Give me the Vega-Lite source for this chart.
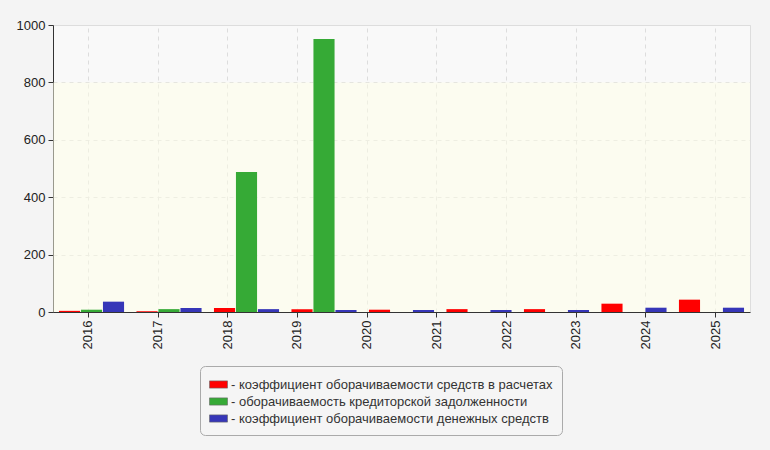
{
  "$schema": "https://vega.github.io/schema/vega-lite/v6.json",
  "background": "#f4f4f4",
  "width": 697,
  "height": 287,
  "autosize": "none",
  "padding": {"left": 53, "top": 25, "right": 20, "bottom": 138},
  "datasets": {
    "turnover": [
      {"period": "2016", "series": "коэффициент оборачиваемости средств в расчетах", "value": 4},
      {"period": "2016", "series": "оборачиваемость кредиторской задолженности", "value": 8},
      {"period": "2016", "series": "коэффициент оборачиваемости денежных средств", "value": 36},
      {"period": "2017", "series": "коэффициент оборачиваемости средств в расчетах", "value": 3},
      {"period": "2017", "series": "оборачиваемость кредиторской задолженности", "value": 10},
      {"period": "2017", "series": "коэффициент оборачиваемости денежных средств", "value": 14},
      {"period": "2018", "series": "коэффициент оборачиваемости средств в расчетах", "value": 14},
      {"period": "2018", "series": "оборачиваемость кредиторской задолженности", "value": 488},
      {"period": "2018", "series": "коэффициент оборачиваемости денежных средств", "value": 10},
      {"period": "2019", "series": "коэффициент оборачиваемости средств в расчетах", "value": 10},
      {"period": "2019", "series": "оборачиваемость кредиторской задолженности", "value": 951},
      {"period": "2019", "series": "коэффициент оборачиваемости денежных средств", "value": 7},
      {"period": "2020", "series": "коэффициент оборачиваемости средств в расчетах", "value": 8},
      {"period": "2020", "series": "оборачиваемость кредиторской задолженности", "value": 0},
      {"period": "2020", "series": "коэффициент оборачиваемости денежных средств", "value": 7},
      {"period": "2021", "series": "коэффициент оборачиваемости средств в расчетах", "value": 10},
      {"period": "2021", "series": "оборачиваемость кредиторской задолженности", "value": 0},
      {"period": "2021", "series": "коэффициент оборачиваемости денежных средств", "value": 7},
      {"period": "2022", "series": "коэффициент оборачиваемости средств в расчетах", "value": 10},
      {"period": "2022", "series": "оборачиваемость кредиторской задолженности", "value": 0},
      {"period": "2022", "series": "коэффициент оборачиваемости денежных средств", "value": 7},
      {"period": "2023", "series": "коэффициент оборачиваемости средств в расчетах", "value": 29},
      {"period": "2023", "series": "оборачиваемость кредиторской задолженности", "value": 0},
      {"period": "2023", "series": "коэффициент оборачиваемости денежных средств", "value": 15},
      {"period": "2024", "series": "коэффициент оборачиваемости средств в расчетах", "value": 43},
      {"period": "2024", "series": "оборачиваемость кредиторской задолженности", "value": 0},
      {"period": "2024", "series": "коэффициент оборачиваемости денежных средств", "value": 15}
    ],
    "years": [
      {"year": "2016"}, {"year": "2017"}, {"year": "2018"}, {"year": "2019"}, {"year": "2020"},
      {"year": "2021"}, {"year": "2022"}, {"year": "2023"}, {"year": "2024"}, {"year": "2025"}
    ]
  },
  "layer": [
    {
      "data": {"values": [{}]},
      "mark": {"type": "rect", "color": "#ffffe8", "opacity": 0.5},
      "encoding": {
        "y": {
          "datum": 0,
          "type": "quantitative",
          "scale": {"domain": [0, 1000]},
          "title": null,
          "axis": {
            "values": [0, 200, 400, 600, 800, 1000],
            "format": "d",
            "grid": true,
            "gridDash": [4, 4],
            "gridColor": "#dddddd",
            "domainColor": "#333333",
            "tickColor": "#333333",
            "tickSize": 5,
            "labelPadding": 3
          }
        },
        "y2": {"datum": 800}
      }
    },
    {
      "data": {"name": "years"},
      "mark": {"type": "rule", "opacity": 0},
      "encoding": {
        "x": {
          "field": "year",
          "type": "ordinal",
          "scale": {"type": "point", "padding": 0.5},
          "title": null,
          "axis": {
            "labelAngle": -90,
            "grid": true,
            "gridDash": [4, 4],
            "gridColor": "#dddddd",
            "domainColor": "#333333",
            "tickColor": "#333333",
            "tickSize": 5,
            "labelPadding": 3
          }
        }
      }
    },
    {
      "data": {"name": "turnover"},
      "mark": {"type": "bar"},
      "encoding": {
        "x": {
          "field": "period",
          "type": "ordinal",
          "scale": {"paddingInner": 0.16, "paddingOuter": 0.077},
          "axis": null
        },
        "xOffset": {
          "field": "series",
          "type": "nominal",
          "scale": {
            "domain": [
              "коэффициент оборачиваемости средств в расчетах",
              "оборачиваемость кредиторской задолженности",
              "коэффициент оборачиваемости денежных средств"
            ],
            "paddingInner": 0.04
          }
        },
        "y": {"field": "value", "type": "quantitative", "title": null},
        "color": {
          "field": "series",
          "type": "nominal",
          "scale": {
            "domain": [
              "коэффициент оборачиваемости средств в расчетах",
              "оборачиваемость кредиторской задолженности",
              "коэффициент оборачиваемости денежных средств"
            ],
            "range": ["#ff0000", "#36aa36", "#3636b8"]
          },
          "legend": {
            "title": null,
            "orient": "none",
            "legendX": 147,
            "legendY": 341,
            "direction": "vertical",
            "padding": 9,
            "fillColor": "#f5f5f5",
            "strokeColor": "#aaaaaa",
            "cornerRadius": 5,
            "symbolType": "M-1,-0.4H1V0.4H-1Z",
            "symbolSize": 324,
            "symbolStrokeColor": "#666666",
            "symbolStrokeWidth": 0.6,
            "symbolOpacity": 1,
            "labelExpr": "'- ' + datum.label",
            "labelFontSize": 13,
            "labelColor": "#333333",
            "labelLimit": 0,
            "labelOffset": 3,
            "rowPadding": 0
          }
        }
      }
    }
  ],
  "resolve": {"scale": {"x": "independent"}},
  "config": {
    "font": "Liberation Sans",
    "view": {"fill": "#f9f9f9", "stroke": "#dddddd"},
    "axis": {"labelFontSize": 13, "labelColor": "#222222", "labelFont": "Liberation Sans"}
  }
}
